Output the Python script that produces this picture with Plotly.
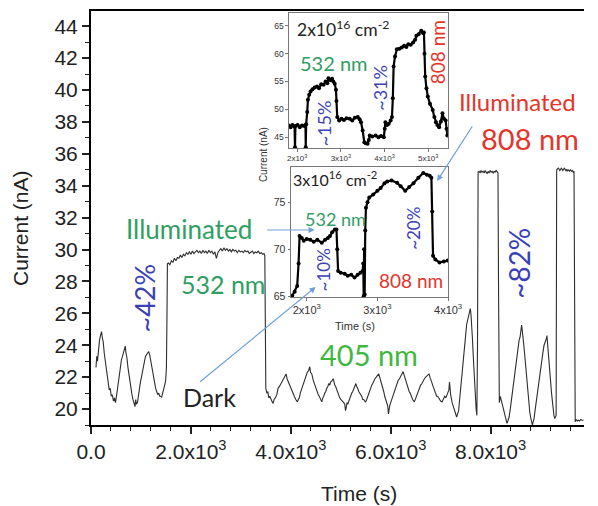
import plotly.graph_objects as go

# ---- main photocurrent trace, (time s, current nA) per illumination stage ----
seg_dark = [
    (100, 22.6), (115, 23.3), (130, 23.0), (150, 23.8), (170, 24.3), (190, 24.6),
    (211, 24.85), (225, 24.5), (245, 24.2), (265, 23.5), (285, 23.0), (305, 22.4),
    (325, 22.1), (345, 21.7), (365, 21.2), (385, 21.3), (405, 20.8), (425, 20.9),
    (450, 20.5), (470, 20.7), (490, 20.4), (510, 20.8), (530, 21.3), (550, 21.7),
    (570, 22.3), (590, 22.6), (610, 23.1), (630, 23.3), (650, 23.6), (670, 23.8),
    (686, 23.95), (700, 23.5), (720, 23.2), (740, 22.6), (760, 22.1), (780, 21.6),
    (800, 21.3), (820, 20.9), (840, 20.6), (860, 20.3), (880, 20.15), (895, 20.6),
    (910, 20.3), (930, 20.4), (950, 20.9), (970, 21.3), (990, 21.7), (1010, 22.0),
    (1030, 22.4), (1050, 22.7), (1070, 23.1), (1090, 23.3), (1110, 23.4), (1130, 23.5),
    (1155, 23.6), (1175, 23.4), (1195, 23.0), (1215, 22.8), (1235, 22.3), (1255, 21.9),
    (1275, 21.6), (1295, 21.3), (1315, 21.1), (1335, 20.9), (1355, 21.0), (1375, 20.8),
    (1395, 20.8), (1415, 20.75), (1435, 21.0), (1455, 21.2), (1475, 21.5), (1495, 21.8),
    (1510, 22.6), (1520, 25.5),
]
seg_532 = [
    (1530, 29.1), (1550, 29.15), (1580, 29.05), (1610, 29.3), (1640, 29.2), (1670, 29.45),
    (1700, 29.3), (1730, 29.5), (1760, 29.45), (1790, 29.65), (1820, 29.5), (1850, 29.7),
    (1880, 29.6), (1910, 29.8), (1940, 29.7), (1970, 29.85), (2000, 29.7), (2030, 29.9),
    (2060, 29.75), (2090, 29.85), (2120, 29.95), (2150, 29.8), (2180, 29.9), (2210, 29.75),
    (2240, 29.95), (2270, 29.8), (2300, 29.9), (2330, 29.75), (2360, 29.95), (2390, 29.8),
    (2420, 29.9), (2450, 29.7), (2480, 29.85), (2510, 29.45), (2540, 29.8), (2570, 29.95),
    (2600, 30.05), (2630, 29.9), (2660, 30.1), (2690, 29.95), (2720, 30.05), (2750, 29.9),
    (2780, 30.0), (2810, 29.85), (2840, 30.0), (2870, 29.9), (2900, 29.95), (2930, 29.8),
    (2960, 29.95), (2990, 29.85), (3020, 29.9), (3050, 29.8), (3080, 29.95), (3110, 29.85),
    (3140, 29.9), (3170, 29.75), (3200, 29.85), (3230, 29.9), (3260, 29.75), (3290, 29.85),
    (3320, 29.8), (3350, 29.9), (3380, 29.75), (3410, 29.8), (3440, 29.7), (3465, 29.75),
    (3480, 29.6), (3490, 25.0),
]
seg_405 = [
    (3500, 21.3), (3520, 21.0), (3540, 21.1), (3560, 20.7), (3580, 20.8), (3620, 20.5),
    (3645, 20.35), (3665, 20.6), (3690, 20.7), (3720, 20.9), (3745, 21.3), (3770, 21.4),
    (3800, 21.6), (3830, 21.8), (3860, 21.9), (3880, 22.1), (3906, 22.2), (3925, 21.9),
    (3950, 21.7), (3980, 21.5), (4000, 21.3), (4020, 21.1), (4045, 20.9), (4070, 20.8),
    (4100, 20.6), (4133, 20.45), (4150, 20.6), (4170, 20.7), (4190, 21.0), (4210, 21.2),
    (4235, 21.5), (4260, 21.6), (4290, 21.9), (4310, 22.1), (4330, 22.3), (4355, 22.4),
    (4380, 22.65), (4395, 22.3), (4420, 22.2), (4450, 21.8), (4470, 21.6), (4490, 21.4),
    (4510, 21.2), (4530, 21.0), (4550, 20.9), (4570, 20.8), (4595, 20.6), (4620, 20.45),
    (4640, 20.7), (4660, 20.8), (4680, 21.0), (4700, 21.1), (4720, 21.3), (4740, 21.4),
    (4760, 21.6), (4780, 21.5), (4800, 21.7), (4820, 21.75), (4849, 21.9), (4865, 21.6),
    (4880, 21.5), (4900, 21.4), (4920, 21.2), (4940, 21.0), (4960, 20.9), (4980, 20.7),
    (5000, 20.6), (5020, 20.55), (5040, 20.5), (5060, 20.4), (5080, 20.3), (5095, 19.9),
    (5108, 20.05), (5125, 20.4), (5140, 20.3), (5160, 20.5), (5180, 20.7), (5200, 20.9),
    (5220, 21.0), (5240, 21.1), (5260, 21.3), (5280, 21.4), (5303, 21.6), (5320, 21.4),
    (5340, 21.3), (5360, 21.1), (5380, 21.0), (5400, 20.9), (5420, 20.8), (5440, 20.6),
    (5460, 20.6), (5480, 20.5), (5499, 20.45), (5520, 20.6), (5540, 20.8), (5560, 21.0),
    (5580, 21.2), (5600, 21.3), (5620, 21.5), (5640, 21.6), (5660, 21.8), (5685, 21.9),
    (5710, 22.0), (5735, 22.1), (5760, 22.2), (5780, 22.0), (5800, 21.8), (5820, 21.6),
    (5840, 21.3), (5860, 21.1), (5880, 20.8), (5900, 20.6), (5920, 20.3), (5940, 20.2),
    (5955, 19.7), (5968, 20.1), (5980, 20.2), (6000, 20.4), (6020, 20.6), (6040, 20.8),
    (6060, 21.0), (6080, 21.2), (6100, 21.4), (6125, 21.6), (6150, 21.8), (6175, 21.9),
    (6200, 22.1), (6225, 22.2), (6248, 22.35), (6270, 22.1), (6290, 22.0), (6310, 21.7),
    (6330, 21.5), (6350, 21.3), (6370, 21.1), (6390, 21.0), (6410, 20.8), (6440, 20.6),
    (6474, 20.45), (6490, 20.6), (6510, 20.7), (6530, 20.9), (6550, 21.1), (6575, 21.3),
    (6600, 21.5), (6625, 21.6), (6650, 21.8), (6675, 21.9), (6700, 22.0), (6735, 22.1),
    (6767, 22.2), (6785, 22.0), (6800, 21.9), (6820, 21.7), (6840, 21.5), (6860, 21.3),
    (6880, 21.1), (6900, 21.0), (6920, 20.8), (6940, 20.8), (6960, 20.7), (6980, 20.6),
    (7000, 20.5), (7028, 20.45), (7050, 20.6), (7080, 20.8), (7105, 20.7), (7130, 20.9),
    (7150, 21.1), (7165, 21.2), (7177, 21.7), (7188, 21.2), (7200, 20.9), (7230, 20.4),
    (7250, 20.2), (7270, 19.9), (7295, 19.7), (7320, 19.5), (7340, 19.7), (7360, 19.9),
    (7380, 20.6), (7400, 21.2), (7420, 22.0), (7440, 22.7), (7460, 23.4), (7480, 24.0),
    (7500, 24.6), (7520, 25.3), (7540, 25.6), (7560, 25.8), (7575, 26.1), (7594, 26.3),
    (7608, 25.9), (7620, 25.4), (7635, 24.5), (7650, 23.5), (7665, 22.5), (7680, 21.5),
    (7695, 20.7), (7710, 20.0), (7725, 19.6), (7738, 24.0),
]
seg_808a = [
    (7750, 34.85), (7770, 34.9), (7790, 34.8), (7810, 34.95), (7830, 34.85), (7850, 34.9),
    (7870, 34.8), (7890, 34.95), (7910, 34.85), (7930, 34.75), (7950, 34.9), (7970, 34.8),
    (7990, 34.95), (8010, 34.85), (8030, 34.9), (8050, 34.8), (8070, 34.9), (8090, 34.85),
    (8110, 34.95), (8130, 34.85), (8148, 34.8), (8160, 27.0),
]
seg_dark2 = [
    (8175, 20.4), (8195, 20.8), (8210, 20.6), (8225, 20.3), (8240, 20.2), (8260, 19.9),
    (8280, 19.6), (8305, 19.3), (8328, 19.1), (8350, 19.3), (8370, 19.5), (8390, 19.9),
    (8410, 20.4), (8430, 20.9), (8450, 21.4), (8470, 21.9), (8490, 22.4), (8510, 22.9),
    (8530, 23.4), (8550, 23.8), (8570, 24.3), (8590, 24.5), (8605, 24.9), (8621, 25.26),
    (8635, 24.9), (8650, 24.6), (8665, 24.0), (8680, 23.5), (8695, 22.9), (8710, 22.3),
    (8725, 21.8), (8740, 21.2), (8755, 20.7), (8770, 20.2), (8785, 19.8), (8800, 19.5),
    (8818, 19.2), (8836, 19.0), (8852, 19.2), (8870, 19.4), (8890, 19.9), (8910, 20.4),
    (8930, 20.9), (8950, 21.4), (8970, 21.9), (8990, 22.4), (9010, 22.8), (9030, 23.3),
    (9050, 23.6), (9070, 24.0), (9085, 24.1), (9100, 24.3), (9115, 24.4), (9128, 24.6),
    (9143, 24.1), (9160, 23.5), (9175, 22.9), (9190, 22.3), (9205, 21.6), (9220, 21.0),
    (9235, 20.5), (9250, 20.0), (9268, 19.6), (9285, 19.4), (9300, 19.5), (9312, 19.6),
]
seg_808b = [
    (9323, 35.0), (9340, 35.05), (9355, 35.1), (9370, 35.05), (9385, 34.95), (9400, 35.0),
    (9415, 35.1), (9430, 35.05), (9445, 34.95), (9460, 35.0), (9475, 35.1), (9490, 35.05),
    (9505, 34.95), (9520, 35.0), (9535, 34.9), (9550, 35.0), (9565, 34.95), (9580, 34.9),
    (9595, 35.0), (9610, 34.95), (9625, 34.9), (9640, 34.95), (9655, 34.85), (9670, 34.9),
    (9682, 30.0),
]
seg_tail = [
    (9694, 19.2), (9715, 19.35), (9735, 19.25), (9755, 19.3), (9780, 19.25), (9805, 19.35),
    (9830, 19.3), (9860, 19.3),
]

# ---- inset 1: 2x10^16 cm^-2 sample ----
inset1 = [
    (1810, 47.1), (1850, 46.8), (1890, 47.2), (1940, 46.9), (1950, 43.2), (1960, 47.0),
    (2010, 47.2), (2060, 46.8), (2110, 47.1), (2160, 47.0), (2190, 47.2), (2196, 43.2),
    (2205, 47.3), (2230, 49.5), (2246, 51.7), (2275, 52.6), (2306, 53.2), (2350, 53.6),
    (2400, 53.9), (2454, 54.1), (2500, 53.8), (2550, 54.5), (2604, 54.4), (2650, 55.0),
    (2690, 54.7), (2716, 55.6), (2760, 55.2), (2800, 55.5), (2828, 55.0), (2860, 54.6),
    (2888, 53.5), (2900, 51.5), (2917, 48.6), (2960, 48.0), (3013, 48.3), (3070, 48.1),
    (3130, 48.4), (3201, 48.3), (3260, 48.0), (3320, 48.5), (3387, 48.6), (3430, 48.2),
    (3461, 47.7), (3499, 46.2), (3537, 44.1), (3570, 43.9), (3611, 43.8), (3640, 44.5),
    (3662, 45.3), (3720, 45.1), (3796, 45.3), (3860, 45.0), (3920, 45.2), (3984, 45.0),
    (4005, 46.5), (4020, 47.7), (4060, 47.2), (4096, 47.4), (4140, 48.0), (4170, 48.6),
    (4190, 52.0), (4208, 57.7), (4240, 59.5), (4282, 60.8), (4340, 60.9), (4394, 61.1),
    (4450, 61.4), (4500, 61.2), (4544, 61.7), (4600, 61.6), (4655, 62.0), (4700, 62.5),
    (4729, 63.2), (4780, 63.5), (4841, 64.1), (4880, 63.7), (4902, 63.8), (4915, 60.0),
    (4931, 55.9), (4960, 53.8), (4991, 52.3), (5040, 51.0), (5103, 49.9), (5140, 48.6),
    (5177, 47.7), (5210, 47.2), (5250, 46.8), (5290, 47.8), (5327, 49.3), (5360, 48.3),
    (5400, 48.0), (5420, 46.5), (5438, 45.3),
]

# ---- inset 2: 3x10^16 cm^-2 sample ----
inset2 = [
    (1796, 65.06), (1830, 65.5), (1865, 66.1), (1885, 68.5), (1899, 71.4), (1930, 71.2),
    (1958, 70.9), (2000, 71.1), (2050, 71.0), (2100, 70.8), (2150, 71.0), (2213, 70.7),
    (2260, 71.0), (2300, 71.2), (2329, 71.4), (2360, 71.8), (2398, 72.1), (2421, 72.1),
    (2432, 70.0), (2444, 67.7), (2480, 67.5), (2537, 67.4), (2580, 67.2), (2630, 67.3),
    (2676, 67.0), (2720, 67.3), (2760, 67.5), (2792, 67.7), (2800, 68.5), (2806, 65.0),
    (2812, 70.0), (2820, 65.2), (2828, 72.0), (2838, 74.4), (2860, 75.0), (2885, 75.5),
    (2940, 75.8), (3000, 76.2), (3046, 76.5), (3100, 77.0), (3139, 77.2), (3200, 77.3),
    (3278, 77.05), (3330, 76.7), (3393, 76.2), (3450, 76.6), (3510, 77.0), (3580, 77.6),
    (3649, 78.1), (3700, 77.9), (3740, 77.8), (3764, 77.6), (3775, 74.0), (3787, 69.3),
    (3820, 68.9), (3879, 68.6), (3940, 68.7), (3992, 68.8),
]

main_ticks = [0, 2000, 4000, 6000, 8000]
main_ticktext = ["0.0", "2.0x10<sup>3</sup>", "4.0x10<sup>3</sup>",
                 "6.0x10<sup>3</sup>", "8.0x10<sup>3</sup>"]
inset1_ticks = [2000, 3000, 4000, 5000]
inset2_ticks = [2000, 3000, 4000]

main_series = seg_dark + seg_532 + seg_405 + seg_808a + seg_dark2 + seg_808b + seg_tail
main_t = [p[0] for p in main_series]
main_i = [p[1] for p in main_series]

# ---- page geometry (pixels) ----
W, H = 598, 506
ML, MR, MT, MB = 91, 0, 11, 81
PW, PH = W - ML - MR, H - MT - MB


def fx(px):
    return (px - ML) / PW


def fy(py):
    return (H - MB - py) / PH


AX_FONT = "Liberation Sans, Arial, sans-serif"
TX_FONT = "Lato, sans-serif"
GREEN = "#2f9e63"
GREEN2 = "#3fb83f"
RED = "#e5342b"
BLUE = "#3b3fb8"
ARROW = "#6e9fd8"

fig = go.Figure()
fig.add_trace(go.Scatter(x=main_t, y=main_i, mode="lines",
                         line=dict(color="#2e2e2e", width=1.1),
                         xaxis="x", yaxis="y", hoverinfo="skip"))
fig.add_trace(go.Scatter(x=[p[0] for p in inset1], y=[p[1] for p in inset1],
                         mode="lines+markers",
                         line=dict(color="black", width=2.2),
                         marker=dict(color="black", size=4),
                         xaxis="x2", yaxis="y2", hoverinfo="skip"))
fig.add_trace(go.Scatter(x=[p[0] for p in inset2], y=[p[1] for p in inset2],
                         mode="lines+markers",
                         line=dict(color="black", width=2.2),
                         marker=dict(color="black", size=4),
                         xaxis="x3", yaxis="y3", hoverinfo="skip"))

main_axis = dict(showgrid=False, zeroline=False, showline=True, linecolor="black",
                 linewidth=2, ticks="outside", ticklen=7, tickwidth=1.5,
                 tickcolor="#222", tickfont=dict(family=AX_FONT, size=21, color="#222"))
inset_axis = dict(showgrid=False, zeroline=False, showline=True, mirror=True,
                  linecolor="#777", linewidth=1, ticks="outside", ticklen=2.5,
                  tickwidth=1, tickcolor="#777")

fig.update_layout(
    width=W, height=H,
    margin=dict(l=ML, r=MR, t=MT, b=MB),
    paper_bgcolor="white", plot_bgcolor="white",
    showlegend=False,
    xaxis=dict(main_axis, domain=[0, 1], range=[0, 9870], mirror=True,
               tickmode="array", tickvals=main_ticks, ticktext=main_ticktext,
               minor=dict(tickmode="array", tickvals=list(range(400, 9870, 400)),
                          ticks="outside", ticklen=4, tickwidth=1.2, tickcolor="#222")),
    yaxis=dict(main_axis, domain=[0, 1], range=[19, 44.95], tick0=20, dtick=2,
               minor=dict(dtick=1, tick0=19, ticks="outside", ticklen=4,
                          tickwidth=1.2, tickcolor="#222")),
    xaxis2=dict(inset_axis, domain=[fx(294.5), fx(458)], anchor="y2",
                range=[1810, 5450], tickmode="array", tickvals=inset1_ticks,
                ticktext=[f"{v // 1000}x10<sup>3</sup>" for v in inset1_ticks],
                tickfont=dict(family=AX_FONT, size=8, color="#333")),
    yaxis2=dict(inset_axis, domain=[fy(148.3), fy(13)], anchor="x2",
                range=[43, 67.3], tickmode="array", tickvals=[45, 50, 55, 60, 65],
                tickfont=dict(family=AX_FONT, size=8.5, color="#333")),
    xaxis3=dict(inset_axis, domain=[fx(296.7), fx(458.3)], anchor="y3",
                range=[1778, 4001], tickmode="array", tickvals=inset2_ticks,
                ticktext=[f"{v // 1000}x10<sup>3</sup>" for v in inset2_ticks],
                tickfont=dict(family=AX_FONT, size=11, color="#333")),
    yaxis3=dict(inset_axis, domain=[fy(297.3), fy(167.3)], anchor="x3",
                range=[64.9, 78.7], tickmode="array", tickvals=[65, 70, 75],
                tickfont=dict(family=AX_FONT, size=10.5, color="#333")),
)


def label(text, px, py, size, color, family=TX_FONT, angle=0):
    return dict(text=text, x=fx(px), y=fy(py), xref="paper", yref="paper",
                xanchor="center", yanchor="middle", showarrow=False,
                textangle=angle, font=dict(family=family, size=size, color=color))


def arrow(head, tail):
    return dict(text="", x=fx(head[0]), y=fy(head[1]), xref="paper", yref="paper",
                ax=tail[0] - head[0], ay=tail[1] - head[1], showarrow=True,
                arrowhead=2, arrowsize=1, arrowwidth=1.2, arrowcolor=ARROW,
                standoff=0, startstandoff=0)


annotations = [
    # axis titles
    label("Time (s)", 367, 493, 21, "#222", AX_FONT),
    label("Current (nA)", 18, 228, 21, "#222", AX_FONT, -90),
    label("Current (nA)", 268, 155, 10, "#333", AX_FONT, -90),
    label("Time (s)", 362, 326, 11, "#333", AX_FONT),
    # main panel
    label("Illuminated", 192, 229, 26, GREEN),
    label("~42%", 146, 298, 27, BLUE, angle=-90),
    label("532 nm", 227, 284, 25, GREEN),
    label("Dark", 213, 397, 25, "#222"),
    label("405 nm", 377, 354, 29, GREEN2),
    label("~82%", 531, 263, 28, BLUE, angle=-90),
    label("Illuminated", 530, 102, 24, RED),
    label("808 nm", 542, 138, 29, RED),
    # inset 1
    label("2x10<sup>16</sup> cm<sup>-2</sup>", 350, 29, 17.5, "#222"),
    label("532 nm", 341, 63, 20, GREEN),
    label("~15%", 331, 123, 18, BLUE, angle=-90),
    label("~31%", 388, 88, 18, BLUE, angle=-90),
    label("808 nm", 447, 52, 19, RED, angle=-90),
    # inset 2
    label("3x10<sup>16</sup> cm<sup>-2</sup>", 342, 178, 16, "#222"),
    label("532 nm", 342, 219, 18, GREEN),
    label("~10%", 330, 270, 17, BLUE, angle=-90),
    label("~20%", 422, 228, 17, BLUE, angle=-90),
    label("808 nm", 420, 280, 19, RED),
    # pointers
    arrow((321, 230), (272, 230)),
    arrow((322, 287), (205, 383)),
    arrow((447, 181), (483, 125)),
]
fig.update_layout(annotations=annotations)

fig.write_html("out.html")
